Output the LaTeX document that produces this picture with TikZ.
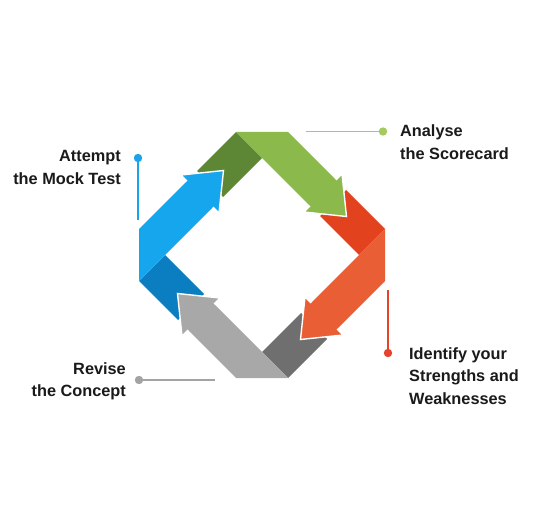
\documentclass[tikz,border=0pt]{standalone}
\usepackage{fontspec}
\setmainfont{Liberation Sans}
\definecolor{lgreen}{HTML}{8BB94B}
\definecolor{dgreen}{HTML}{5D8735}
\definecolor{lorange}{HTML}{EA5E35}
\definecolor{dred}{HTML}{E3421F}
\definecolor{lgrey}{HTML}{A8A8A8}
\definecolor{dgrey}{HTML}{6F6F6F}
\definecolor{lblue}{HTML}{16A6EE}
\definecolor{dblue}{HTML}{0A7EC0}
\definecolor{cgreen}{HTML}{A3CB5E}
\definecolor{cred}{HTML}{E5432A}
\definecolor{cblue}{HTML}{1BA3EA}
\definecolor{cgrey}{HTML}{A3A3A3}
\definecolor{txt}{HTML}{1A1A1A}
\newcommand\ringdark[1]{\fill[#1] (-26,123) -- (0,97) -- (-39,58) -- (-65,84) -- cycle;}
\newcommand\ringlight[1]{%
  \fill[#1] (-26,123) -- (26,123) -- (74,75) -- (80,81) -- (84.5,38.5) -- (42,43) -- (48,49) -- (0,97) -- cycle;
  \draw[headline] (74,75) -- (80,81) -- (84.5,38.5) -- (42,43) -- (48,49);}
\begin{document}
\begin{tikzpicture}[x=1pt,y=1pt,
  headline/.style={white, line width=1.4pt, line join=miter},
  lbl/.style={inner sep=0pt, font=\bfseries\fontsize{16.3}{22.6}\selectfont, text=txt},
  callout/.style={line width=1.3pt}]
\useasboundingbox (0,0) rectangle (540,515);
\fill[white] (0,0) rectangle (540,515);
% dark fold pieces
\begin{scope}[shift={(262,260)}]\ringdark{dgreen}\end{scope}
\begin{scope}[shift={(262,260)},rotate=-90]\ringdark{dred}\end{scope}
\begin{scope}[shift={(262,260)},rotate=-180]\ringdark{dgrey}\end{scope}
\begin{scope}[shift={(262,260)},rotate=90]\ringdark{dblue}\end{scope}
% light arrows
\begin{scope}[shift={(262,260)}]\ringlight{lgreen}\end{scope}
\begin{scope}[shift={(262,260)},rotate=-90]\ringlight{lorange}\end{scope}
\begin{scope}[shift={(262,260)},rotate=-180]\ringlight{lgrey}\end{scope}
\begin{scope}[shift={(262,260)},rotate=90]\ringlight{lblue}\end{scope}
% callouts
\coordinate (bdot) at (138,357);
\coordinate (bend) at (138,295);
\draw[callout, cblue] (bdot) -- (bend);
\fill[cblue] (bdot) circle (4.2);
\coordinate (gdot) at (383,383.5);
\coordinate (gend) at (305.5,383.5);
\draw[callout, cgreen] (gend) -- (gdot);
\fill[cgreen] (gdot) circle (4.2);
\coordinate (rdot) at (388,162);
\coordinate (rend) at (388,225);
\draw[callout, cred] (rend) -- (rdot);
\fill[cred] (rdot) circle (4.2);
\coordinate (ydot) at (139,135);
\coordinate (yend) at (215,135);
\draw[callout, cgrey] (ydot) -- (yend);
\fill[cgrey] (ydot) circle (4.2);
% labels
\node[lbl, anchor=base east] (attempt) at (121,353.3) {\begin{tabular}[t]{@{}r@{}}Attempt\\the Mock Test\end{tabular}};
\node[lbl, anchor=base west] (analyse) at (400,378.3) {\begin{tabular}[t]{@{}l@{}}Analyse\\the Scorecard\end{tabular}};
\node[lbl, anchor=base west] (identify) at (409,155.7) {\begin{tabular}[t]{@{}l@{}}Identify your\\Strengths and\\Weaknesses\end{tabular}};
\node[lbl, anchor=base east] (revise) at (126,141) {\begin{tabular}[t]{@{}r@{}}Revise\\the Concept\end{tabular}};
\end{tikzpicture}
\end{document}
